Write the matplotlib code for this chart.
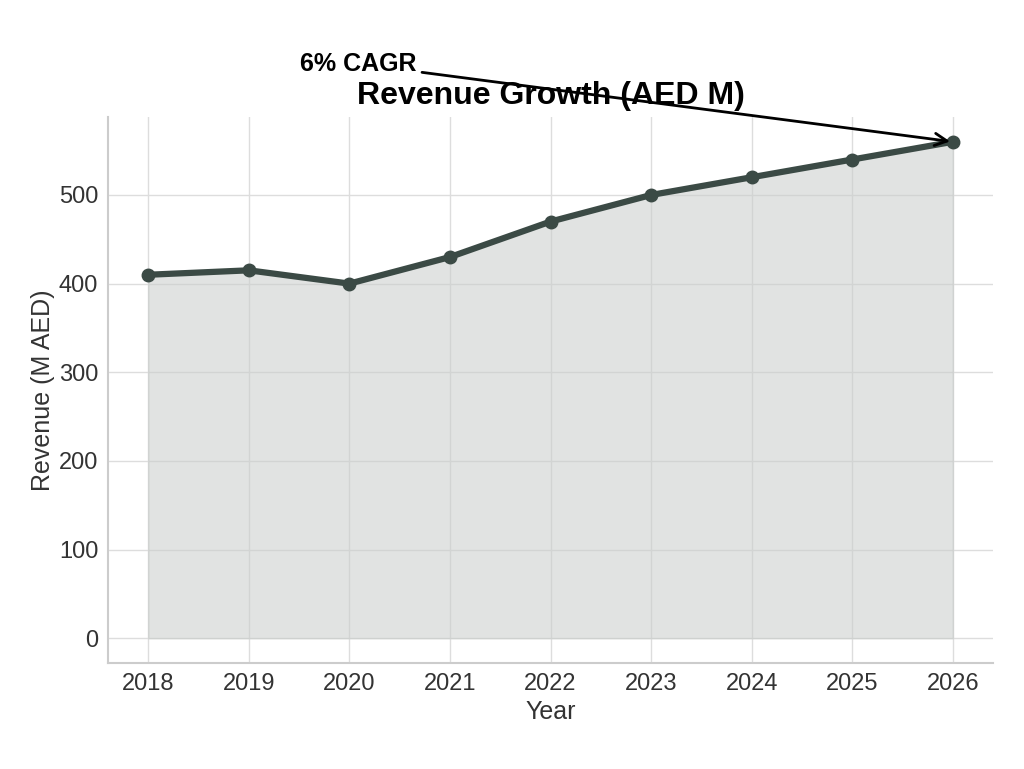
import matplotlib
matplotlib.use("Agg")
import matplotlib.pyplot as plt

years = [2018, 2019, 2020, 2021, 2022, 2023, 2024, 2025, 2026]
revenue = [410, 415, 400, 430, 470, 500, 520, 540, 560]
title = "Revenue Growth (AED M)"
xlabel = "Year"
ylabel = "Revenue (M AED)"
note = "6% CAGR"

plt.rcParams['font.family'] = ['Liberation Sans', 'DejaVu Sans']

fig = plt.figure(figsize=(10.24, 7.69), dpi=100)
ax = fig.add_axes([0.1055, 0.1378, 0.8643, 0.7101])

line_color = "#3b4a45"
ax.fill_between(years, revenue, 0, color="#c9cdcb", alpha=0.55, zorder=1)
ax.plot(years, revenue, color=line_color, lw=4.5, marker='o', ms=9, zorder=3)
ax.margins(x=0.05, y=0.05)

ax.set_xticks(years)
ax.set_xticklabels([str(y) for y in years])
ax.grid(True, color="#dddddd", lw=1, zorder=0)
ax.set_axisbelow(True)
for s in ["top", "right"]:
    ax.spines[s].set_visible(False)
for s in ["left", "bottom"]:
    ax.spines[s].set_color("#cccccc")
    ax.spines[s].set_linewidth(1.5)
ax.tick_params(axis='both', labelsize=17, colors="#333333", length=0, pad=7)
ax.set_xlabel(xlabel, fontsize=18, color="#333333", labelpad=4)
ax.set_ylabel(ylabel, fontsize=18, color="#333333", labelpad=3)
ax.set_title(title, fontsize=23, fontweight='bold', pad=9)

ax.annotate(note, xy=(years[-1], revenue[-1]), xytext=(300, 705),
            textcoords='figure pixels', fontsize=18, fontweight='bold',
            ha='left', va='center',
            arrowprops=dict(arrowstyle='->', color='black', lw=2, mutation_scale=22))

fig.savefig("out.png", dpi=100)
